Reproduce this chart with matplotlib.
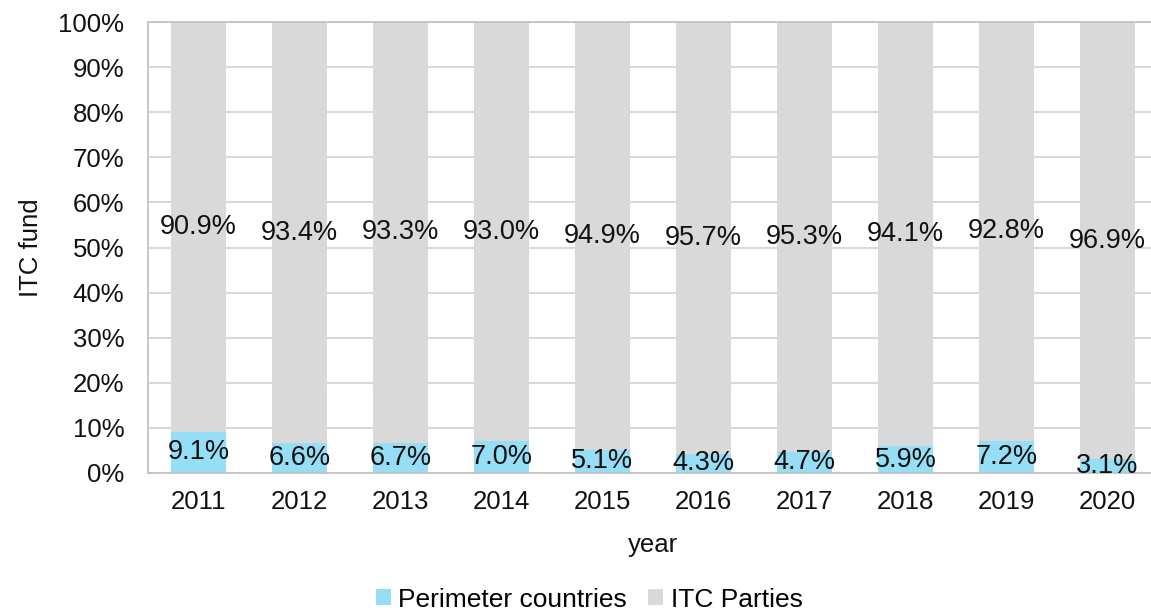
import matplotlib.pyplot as plt
import numpy as np

plt.rcParams['font.family'] = ['Liberation Sans', 'DejaVu Sans']

years = ['2011', '2012', '2013', '2014', '2015', '2016', '2017', '2018', '2019', '2020']
perimeter = [9.1, 6.6, 6.7, 7.0, 5.1, 4.3, 4.7, 5.9, 7.2, 3.1]
itc_parties = [90.9, 93.4, 93.3, 93.0, 94.9, 95.7, 95.3, 94.1, 92.8, 96.9]

blue = '#96DEF5'
grey = '#D9D9D9'

fig = plt.figure(figsize=(11.51, 6.14), dpi=100)
ax = fig.add_axes([148 / 1151, 141 / 614, 1010 / 1151, 451 / 614])

x = np.arange(len(years))
w = 0.535
b1 = ax.bar(x, perimeter, w, color=blue, label='Perimeter countries', zorder=2)
b2 = ax.bar(x, itc_parties, w, bottom=perimeter, color=grey, label='ITC Parties', zorder=2)

# data labels in the middle of each segment
for i in range(len(years)):
    ax.text(x[i], perimeter[i] / 2, f'{perimeter[i]:.1f}%', ha='center', va='center',
            fontsize=19.5, color='#111111', zorder=3)
    ax.text(x[i], perimeter[i] + itc_parties[i] / 2, f'{itc_parties[i]:.1f}%', ha='center',
            va='center', fontsize=19.5, color='#111111', zorder=3)

ax.set_xlim(-0.5, len(years) - 0.5)
ax.set_ylim(0, 100)
ax.set_yticks(np.arange(0, 101, 10))
ax.set_yticklabels([f'{v}%' for v in range(0, 101, 10)])
ax.set_xticks(x)
ax.set_xticklabels(years)
ax.tick_params(axis='y', length=0, pad=17, labelsize=18.5, labelcolor='#111111')
ax.tick_params(axis='x', length=0, pad=12, labelsize=18.5, labelcolor='#111111')
ax.yaxis.grid(True, color='#D9D9D9', linewidth=1.5, zorder=0)
ax.set_axisbelow(True)
for s in ax.spines.values():
    s.set_color('#BFBFBF')
    s.set_linewidth(1.2)

ax.set_ylabel('ITC fund', fontsize=18.5, labelpad=11, color='#111111')
ax.set_xlabel('year', fontsize=18.5, labelpad=14, color='#111111')

fig.legend(handles=[b1, b2], loc='lower center', bbox_to_anchor=(0.512, -0.035), ncol=2,
           frameon=False, fontsize=19, handlelength=0.55, handleheight=0.55,
           handletextpad=0.3, columnspacing=0.8)

fig.savefig('out.png', dpi=100)
